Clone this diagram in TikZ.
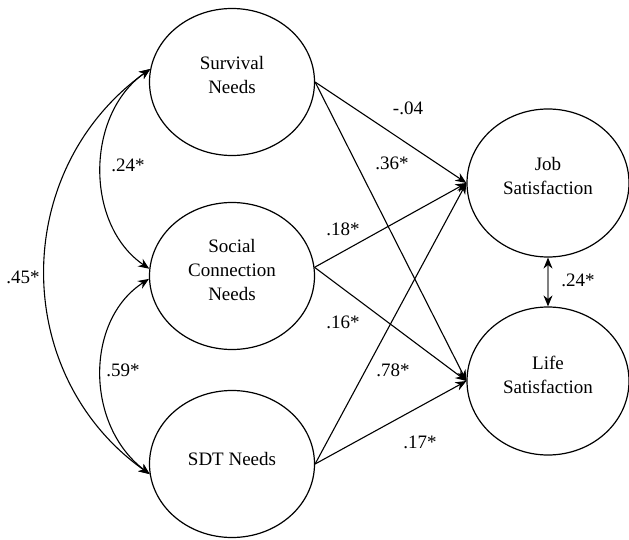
\documentclass[tikz,border=0pt]{standalone}
\usepackage{fontspec}
\setmainfont{LiberationSerif}[Extension=.ttf,UprightFont=*-Regular,BoldFont=*-Bold,ItalicFont=*-Italic,BoldItalicFont=*-BoldItalic]
\usetikzlibrary{shapes.geometric,arrows.meta}
\begin{document}
\begin{tikzpicture}[x=1pt,y=-1pt,
  latent/.style={ellipse,draw,line width=1.2pt,minimum width=165pt,minimum height=147pt,inner sep=0pt},
  outcome/.style={ellipse,draw,line width=1.2pt,minimum width=162pt,minimum height=148pt,inner sep=0pt},
  ltext/.style={align=center,font=\rmfamily\fontsize{19}{24}\selectfont,inner sep=0pt},
  coef/.style={font=\rmfamily\fontsize{19}{24}\selectfont,inner sep=0pt},
  path/.style={line width=1.1pt,-{Stealth[length=11pt,width=9pt]}},
  cov/.style={line width=1.1pt,{Stealth[length=11pt,width=9pt]}-{Stealth[length=11pt,width=9pt]}}
]
\useasboundingbox (0,0) rectangle (629,540);
\node[latent] (surv) at (232,82) {};
\node[latent] (soc) at (232,276) {};
\node[latent] (sdt) at (232,464) {};
\node[outcome] (job) at (548,183) {};
\node[outcome] (life) at (548,381) {};
\node[ltext] (survt) at (232,75) {Survival\\Needs};
\node[ltext] (soct) at (232,270) {Social\\Connection\\Needs};
\node[ltext] (sdtt) at (232,459) {SDT Needs};
\node[ltext] (jobt) at (548,176) {Job\\Satisfaction};
\node[ltext] (lifet) at (548,375) {Life\\Satisfaction};
% paths
\draw[path] (surv.east) -- (job.west);
\draw[path] (surv.east) -- (life.west);
\draw[path] (soc.6) -- (job.west);
\draw[path] (soc.6) -- (life.west);
\draw[path] (sdt.east) -- (job.west);
\draw[path] (sdt.east) -- (life.west);
% covariances
\draw[cov] (surv.171) .. controls (85,115) and (85,225) .. (soc.175);
\draw[cov] (soc.182) .. controls (85,320) and (85,425) .. (sdt.187);
\draw[cov] (surv.171) .. controls (10,170) and (10,375) .. (sdt.187);
\draw[line width=1.1pt,draw=gray,{Stealth[black,length=11pt,width=9pt]}-{Stealth[black,length=11pt,width=9pt]}] (job.south) -- (life.north);
% coefficients
\node[coef] (c1) at (408,108) {-.04};
\node[coef] (c2) at (392,163) {.36*};
\node[coef] (c3) at (343,229) {.18*};
\node[coef] (c4) at (343,322) {.16*};
\node[coef] (c5) at (393,370) {.78*};
\node[coef] (c6) at (420,442) {.17*};
\node[coef] (c7) at (578,280) {.24*};
\node[coef] (c8) at (128,165) {.24*};
\node[coef] (c9) at (123,370) {.59*};
\node[coef] (c10) at (23,277) {.45*};
\end{tikzpicture}
\end{document}
